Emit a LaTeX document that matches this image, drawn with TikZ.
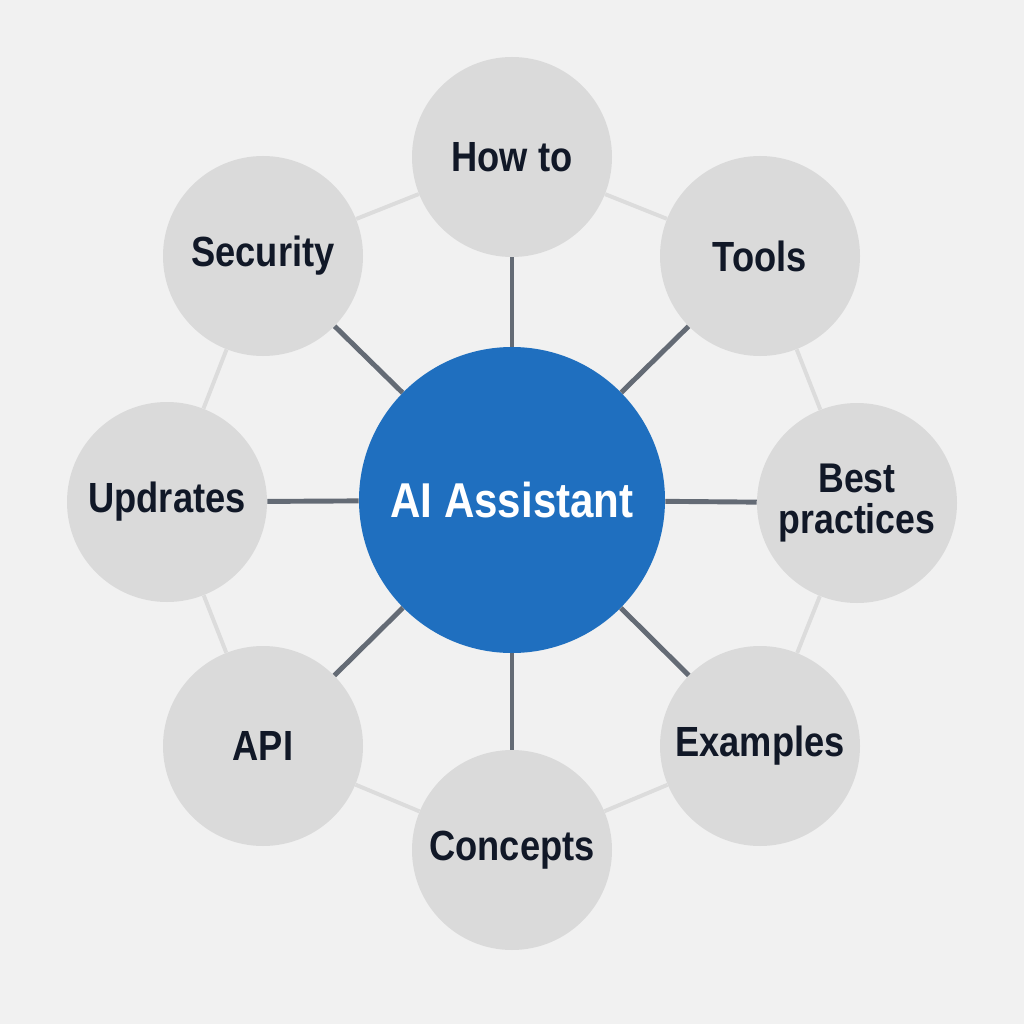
\documentclass[tikz,border=0pt]{standalone}
\usepackage{fontspec}
\newfontfamily\lbl[FakeStretch=0.86]{Liberation Sans Bold}
\definecolor{bgc}{HTML}{F1F1F1}
\definecolor{hubc}{HTML}{1F6FBF}
\definecolor{leafc}{HTML}{DADADA}
\definecolor{spokec}{HTML}{646B75}
\definecolor{ringc}{HTML}{DCDCDC}
\definecolor{txtc}{HTML}{111827}
\tikzset{
  hub/.style={circle, fill=hubc, minimum size=306*0.025cm, inner sep=0pt, text=white, font=\lbl\fontsize{34.8}{40}\selectfont},
  leaf/.style={circle, fill=leafc, minimum size=200*0.025cm, inner sep=0pt, text=txtc, font=\lbl\fontsize{30}{34}\selectfont, align=center},
  spoke/.style={draw=spokec, line width=3.5pt},
  ring/.style={draw=ringc, line width=2.8pt}
}
\begin{document}
\begin{tikzpicture}[x=0.025cm,y=-0.025cm]
\fill[bgc] (0,0) rectangle (1024,1024);
\useasboundingbox (0,0) rectangle (1024,1024);
\node[hub] (c) at (512,500) {AI Assistant};
\node[leaf] (howto) at (512,157) {How to};
\node[leaf] (tools) at (760,256) {Tools};
\node[leaf, font=\lbl\fontsize{29.5}{29}\selectfont] (best) at (857,503) {Best\\practices};
\node[leaf] (examples) at (760,746) {Examples};
\node[leaf] (concepts) at (512,850) {Concepts};
\node[leaf] (api) at (263,746) {API};
\node[leaf] (updrates) at (167,502) {Updrates};
\node[leaf] (security) at (263,256) {Security};
\draw[ring] (security) -- (howto);
\draw[ring] (howto) -- (tools);
\draw[ring] (tools) -- (best);
\draw[ring] (best) -- (examples);
\draw[ring] (examples) -- (concepts);
\draw[ring] (concepts) -- (api);
\draw[ring] (api) -- (updrates);
\draw[ring] (updrates) -- (security);
\foreach \n in {howto,tools,best,examples,concepts,api,updrates,security}
  \draw[spoke] (c) -- (\n);
\end{tikzpicture}
\end{document}
